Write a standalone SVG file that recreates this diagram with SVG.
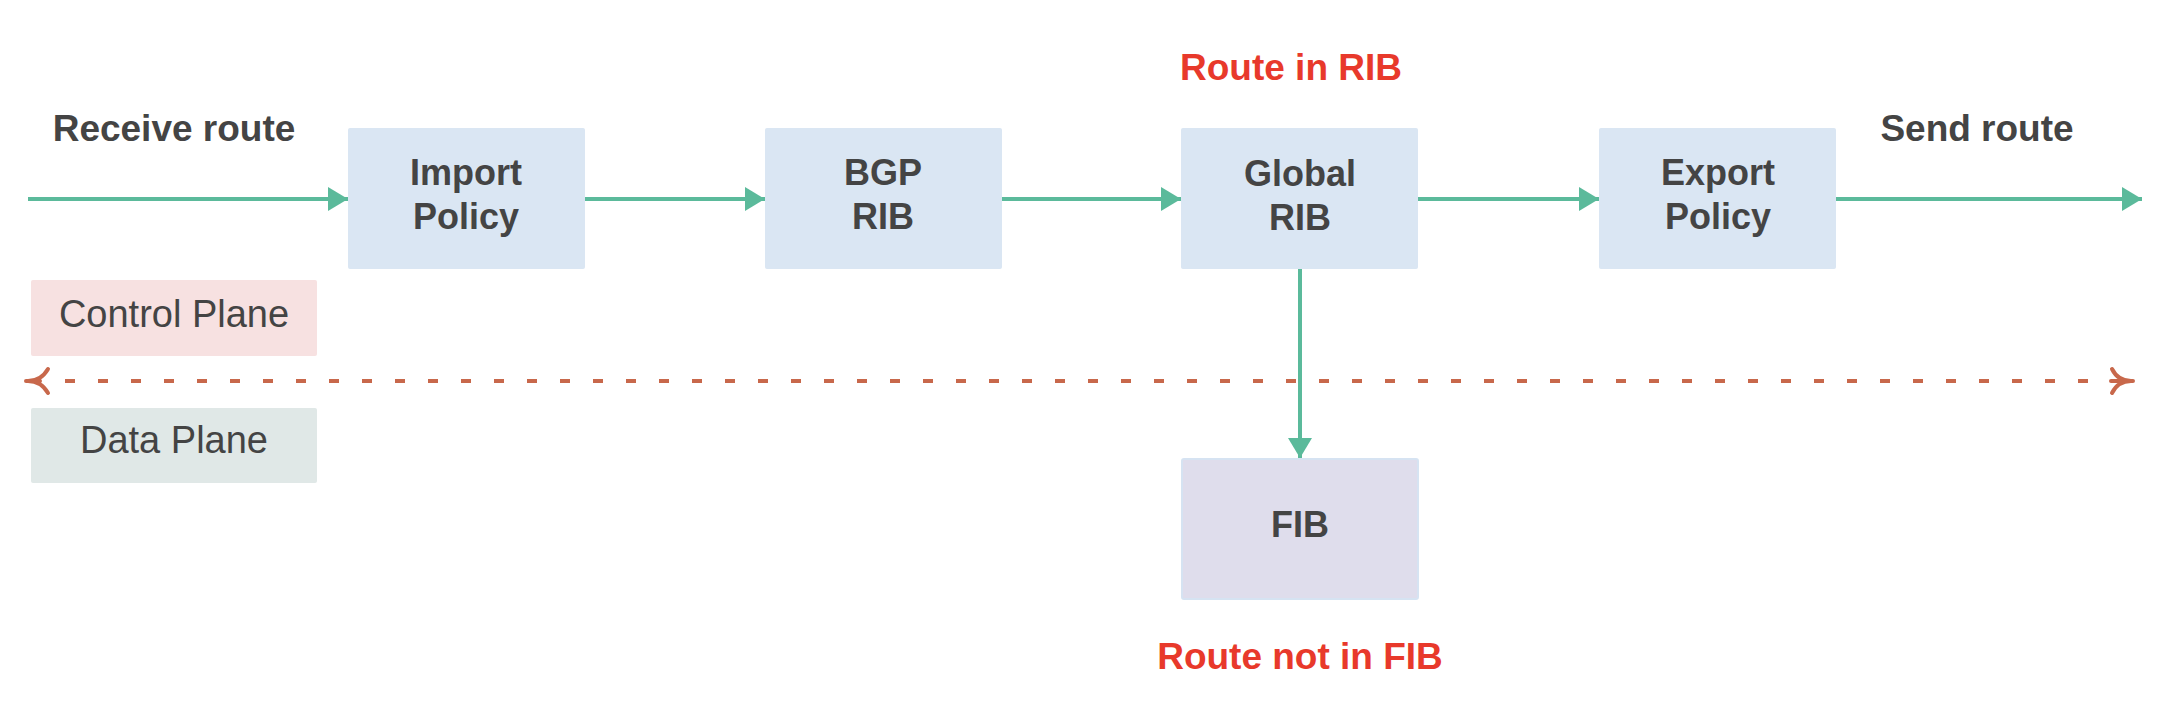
<svg xmlns="http://www.w3.org/2000/svg" width="2176" height="716" viewBox="0 0 2176 716">
<defs>
<style>
.node{fill:#DAE6F3;}
.fib{fill:#DFDDEC;stroke:#D6E3F2;stroke-width:2;}
.lbl{font-family:"Liberation Sans",Arial,sans-serif;font-weight:bold;font-size:36px;fill:#444444;text-anchor:middle;}
.red{font-family:"Liberation Sans",Arial,sans-serif;font-weight:bold;font-size:37px;fill:#E8392B;text-anchor:middle;}
.plane{font-family:"Liberation Sans",Arial,sans-serif;font-size:38px;fill:#444444;text-anchor:middle;}
.flow{stroke:#5BBA9B;stroke-width:4;fill:none;}
.dash{stroke:#C8684B;stroke-width:4;fill:none;stroke-dasharray:10 23;}
.tail{stroke:#C8684B;stroke-width:4;fill:none;stroke-linecap:round;}
</style>
<marker id="ah" markerUnits="userSpaceOnUse" markerWidth="20" markerHeight="24" refX="20" refY="12" orient="auto">
<path d="M0,0 L20,12 L0,24 Z" fill="#5BBA9B"/>
</marker>
</defs>
<rect width="2176" height="716" fill="#FFFFFF"/>

<g id="connectors">
<line class="flow" x1="28" y1="199" x2="348" y2="199" marker-end="url(#ah)"/>
<line class="flow" x1="585" y1="199" x2="765" y2="199" marker-end="url(#ah)"/>
<line class="flow" x1="1002" y1="199" x2="1181" y2="199" marker-end="url(#ah)"/>
<line class="flow" x1="1418" y1="199" x2="1599" y2="199" marker-end="url(#ah)"/>
<line class="flow" x1="1836" y1="199" x2="2142" y2="199" marker-end="url(#ah)"/>
<line class="flow" x1="1300" y1="269" x2="1300" y2="458" marker-end="url(#ah)"/>
</g>

<g id="plane-divider">
<line class="dash" x1="65" y1="381" x2="2088" y2="381"/>
<path class="tail" d="M26,381 L40,381 M48,369 Q41,381 28,381 M48,393 Q41,381 28,381"/>
<path class="tail" d="M2111,381 L2133,381 M2112,369 Q2118,381 2131,381 M2112,393 Q2118,381 2131,381"/>
</g>

<g id="control-plane">
<rect x="31" y="280" width="286" height="76" rx="2" fill="#F7E1E1"/>
<text class="plane" x="174" y="327">Control Plane</text>
</g>
<g id="data-plane">
<rect x="31" y="408" width="286" height="75" rx="2" fill="#E0E8E7"/>
<text class="plane" x="174" y="453">Data Plane</text>
</g>

<g id="receive-route">
<text class="lbl" x="174" y="141" style="font-size:37px">Receive route</text>
</g>
<g id="send-route">
<text class="lbl" x="1977" y="141" style="font-size:37px">Send route</text>
</g>

<g id="import-policy">
<rect class="node" x="348" y="128" width="237" height="141" rx="2"/>
<text class="lbl" x="466" y="185">Import</text>
<text class="lbl" x="466" y="229">Policy</text>
</g>
<g id="bgp-rib">
<rect class="node" x="765" y="128" width="237" height="141" rx="2"/>
<text class="lbl" x="883" y="185">BGP</text>
<text class="lbl" x="883" y="229">RIB</text>
</g>
<g id="global-rib">
<rect class="node" x="1181" y="128" width="237" height="141" rx="2"/>
<text class="lbl" x="1300" y="186">Global</text>
<text class="lbl" x="1300" y="230">RIB</text>
</g>
<g id="export-policy">
<rect class="node" x="1599" y="128" width="237" height="141" rx="2"/>
<text class="lbl" x="1718" y="185">Export</text>
<text class="lbl" x="1718" y="229">Policy</text>
</g>
<g id="fib">
<rect class="fib" x="1182" y="459" width="236" height="140" rx="2"/>
<text class="lbl" x="1300" y="537">FIB</text>
</g>

<g id="route-in-rib">
<text class="red" x="1291" y="80">Route in RIB</text>
</g>
<g id="route-not-in-fib">
<text class="red" x="1300" y="669">Route not in FIB</text>
</g>
</svg>
